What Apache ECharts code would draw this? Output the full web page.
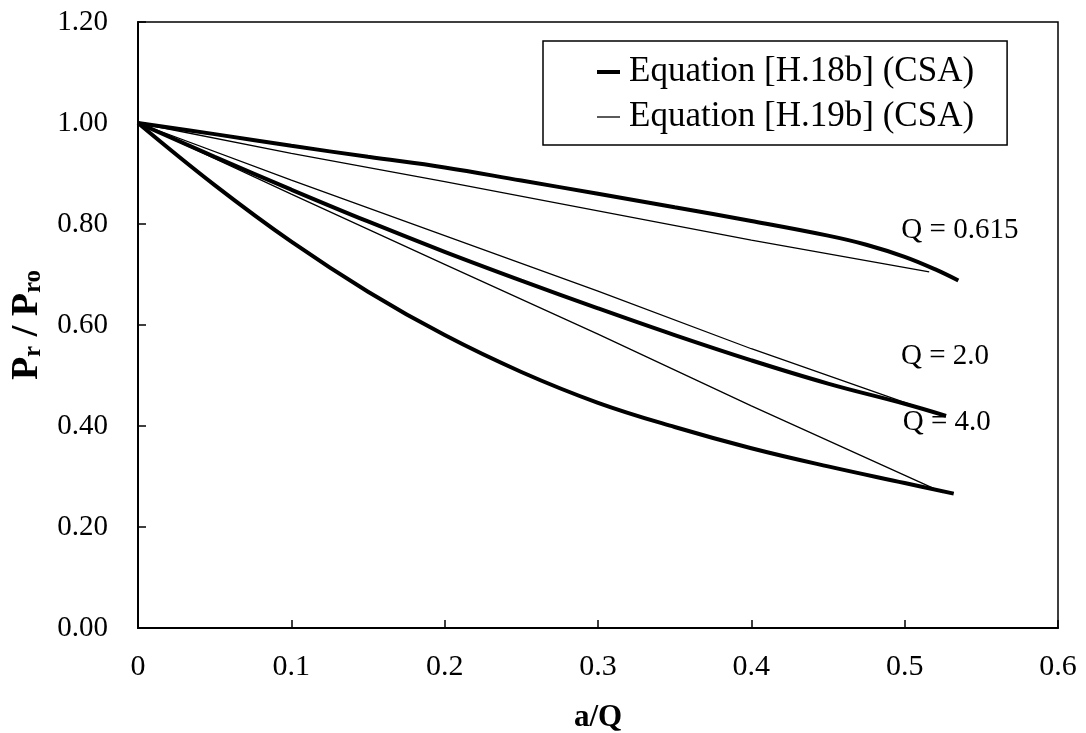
<!DOCTYPE html>
<html>
<head>
<meta charset="utf-8">
<script src="https://cdn.jsdelivr.net/npm/echarts@6/dist/echarts.min.js"></script>
<style>
  html, body { margin: 0; padding: 0; background: #fff; }
  #chart { width: 1086px; height: 733px; }
</style>
</head>
<body>
<div id="chart"></div>
<script>
// values: [a/Q, Pr/Pro]
const h18b_q0615 = [[0, 1.0], [0.05, 0.978], [0.1, 0.955], [0.15, 0.933], [0.2, 0.912], [0.25, 0.886],
  [0.3, 0.860], [0.35, 0.833], [0.4, 0.806], [0.45, 0.777], [0.475, 0.759], [0.5, 0.735],
  [0.52, 0.710], [0.535, 0.688]];
const h19b_q0615 = [[0, 1.0], [0.1, 0.940], [0.2, 0.884], [0.3, 0.826], [0.4, 0.768], [0.516, 0.705]];

const h18b_q2 = [[0, 1.0], [0.05, 0.933], [0.1, 0.868], [0.15, 0.805], [0.2, 0.745], [0.25, 0.688],
  [0.3, 0.633], [0.35, 0.580], [0.4, 0.530], [0.45, 0.484], [0.5, 0.444], [0.527, 0.42]];
const h19b_q2 = [[0, 1.0], [0.1, 0.887], [0.2, 0.777], [0.3, 0.667], [0.4, 0.553], [0.525, 0.42]];

const h18b_q4 = [[0, 1.0], [0.05, 0.877], [0.1, 0.765], [0.15, 0.666], [0.2, 0.580], [0.25, 0.507],
  [0.3, 0.446], [0.35, 0.398], [0.4, 0.356], [0.45, 0.320], [0.5, 0.287], [0.532, 0.266]];
const h19b_q4 = [[0, 1.0], [0.1, 0.859], [0.2, 0.720], [0.3, 0.582], [0.4, 0.440], [0.525, 0.268]];

const legendNames = ['Equation [H.18b] (CSA)', 'Equation [H.19b] (CSA)'];
const curveLabels = ['Q = 0.615', 'Q = 2.0', 'Q = 4.0'];

const FONT = 'Liberation Serif';
const chart = echarts.init(document.getElementById('chart'));

function thin(data) {
  return {
    name: legendNames[1], type: 'line', data, symbol: 'none',
    lineStyle: { color: '#000', width: 1.3 }, itemStyle: { color: '#000' }, z: 2
  };
}
function thick(data, label, off) {
  return {
    name: legendNames[0], type: 'line', data, symbol: 'none', smooth: 0.4,
    lineStyle: { color: '#000', width: 4 }, itemStyle: { color: '#000' }, z: 3,
    endLabel: {
      show: true, formatter: label, offset: off,
      fontFamily: FONT, fontSize: 29, color: '#000'
    }
  };
}

chart.setOption({
  animation: false,
  backgroundColor: '#fff',
  grid: {
    left: 138, right: 28, top: 22, bottom: 105, outerBoundsMode: 'none',
    show: true, borderColor: '#000', borderWidth: 1.5
  },
  legend: {
    data: [
      { name: legendNames[0], lineStyle: { width: 4, color: '#000' } },
      { name: legendNames[1], lineStyle: { width: 1.3, color: '#000' } }
    ],
    orient: 'vertical', left: 543, top: 41,
    padding: [11, 33, 8, 52], itemGap: 5,
    itemWidth: 23, itemHeight: 14,
    itemStyle: { opacity: 0 },
    backgroundColor: '#fff', borderColor: '#000', borderWidth: 1.5,
    textStyle: { fontFamily: FONT, fontSize: 35, color: '#000', lineHeight: 40, padding: [0, 0, 0, 4] },
    selectedMode: false
  },
  xAxis: {
    type: 'value', min: 0, max: 0.6, interval: 0.1,
    name: 'a/Q', nameLocation: 'middle', nameGap: 74,
    nameTextStyle: { fontFamily: FONT, fontSize: 31, fontWeight: 'bold', color: '#000' },
    axisLine: { lineStyle: { color: '#000', width: 2 } },
    axisTick: { inside: true, length: 8, lineStyle: { color: '#000', width: 1.5 } },
    axisLabel: {
      fontFamily: FONT, fontSize: 30, color: '#000', margin: 24,
      formatter: v => v === 0 ? '0' : v.toFixed(1)
    },
    splitLine: { show: false }
  },
  yAxis: {
    type: 'value', min: 0, max: 1.2, interval: 0.2,
    name: '{p|P}{s|r}{p| / P}{s|ro}', nameLocation: 'middle', nameGap: 90,
    nameTextStyle: {
      fontFamily: FONT, fontWeight: 'bold', color: '#000',
      rich: {
        p: { fontFamily: FONT, fontSize: 38, fontWeight: 'bold', color: '#000', lineHeight: 46, verticalAlign: 'bottom' },
        s: { fontFamily: FONT, fontSize: 25, fontWeight: 'bold', color: '#000', lineHeight: 46, verticalAlign: 'bottom', padding: [16, 0, 0, 0] }
      }
    },
    axisLine: { lineStyle: { color: '#000', width: 2 } },
    axisTick: { inside: true, length: 8, lineStyle: { color: '#000', width: 1.5 } },
    axisLabel: {
      fontFamily: FONT, fontSize: 29, color: '#000', margin: 30,
      formatter: v => v.toFixed(2)
    },
    splitLine: { show: false }
  },
  series: [
    thin(h19b_q0615), thin(h19b_q2), thin(h19b_q4),
    thick(h18b_q0615, curveLabels[0], [-65, -50]),
    thick(h18b_q2, curveLabels[1], [-53, -60]),
    thick(h18b_q4, curveLabels[2], [-59, -71])
  ]
});
</script>
</body>
</html>
